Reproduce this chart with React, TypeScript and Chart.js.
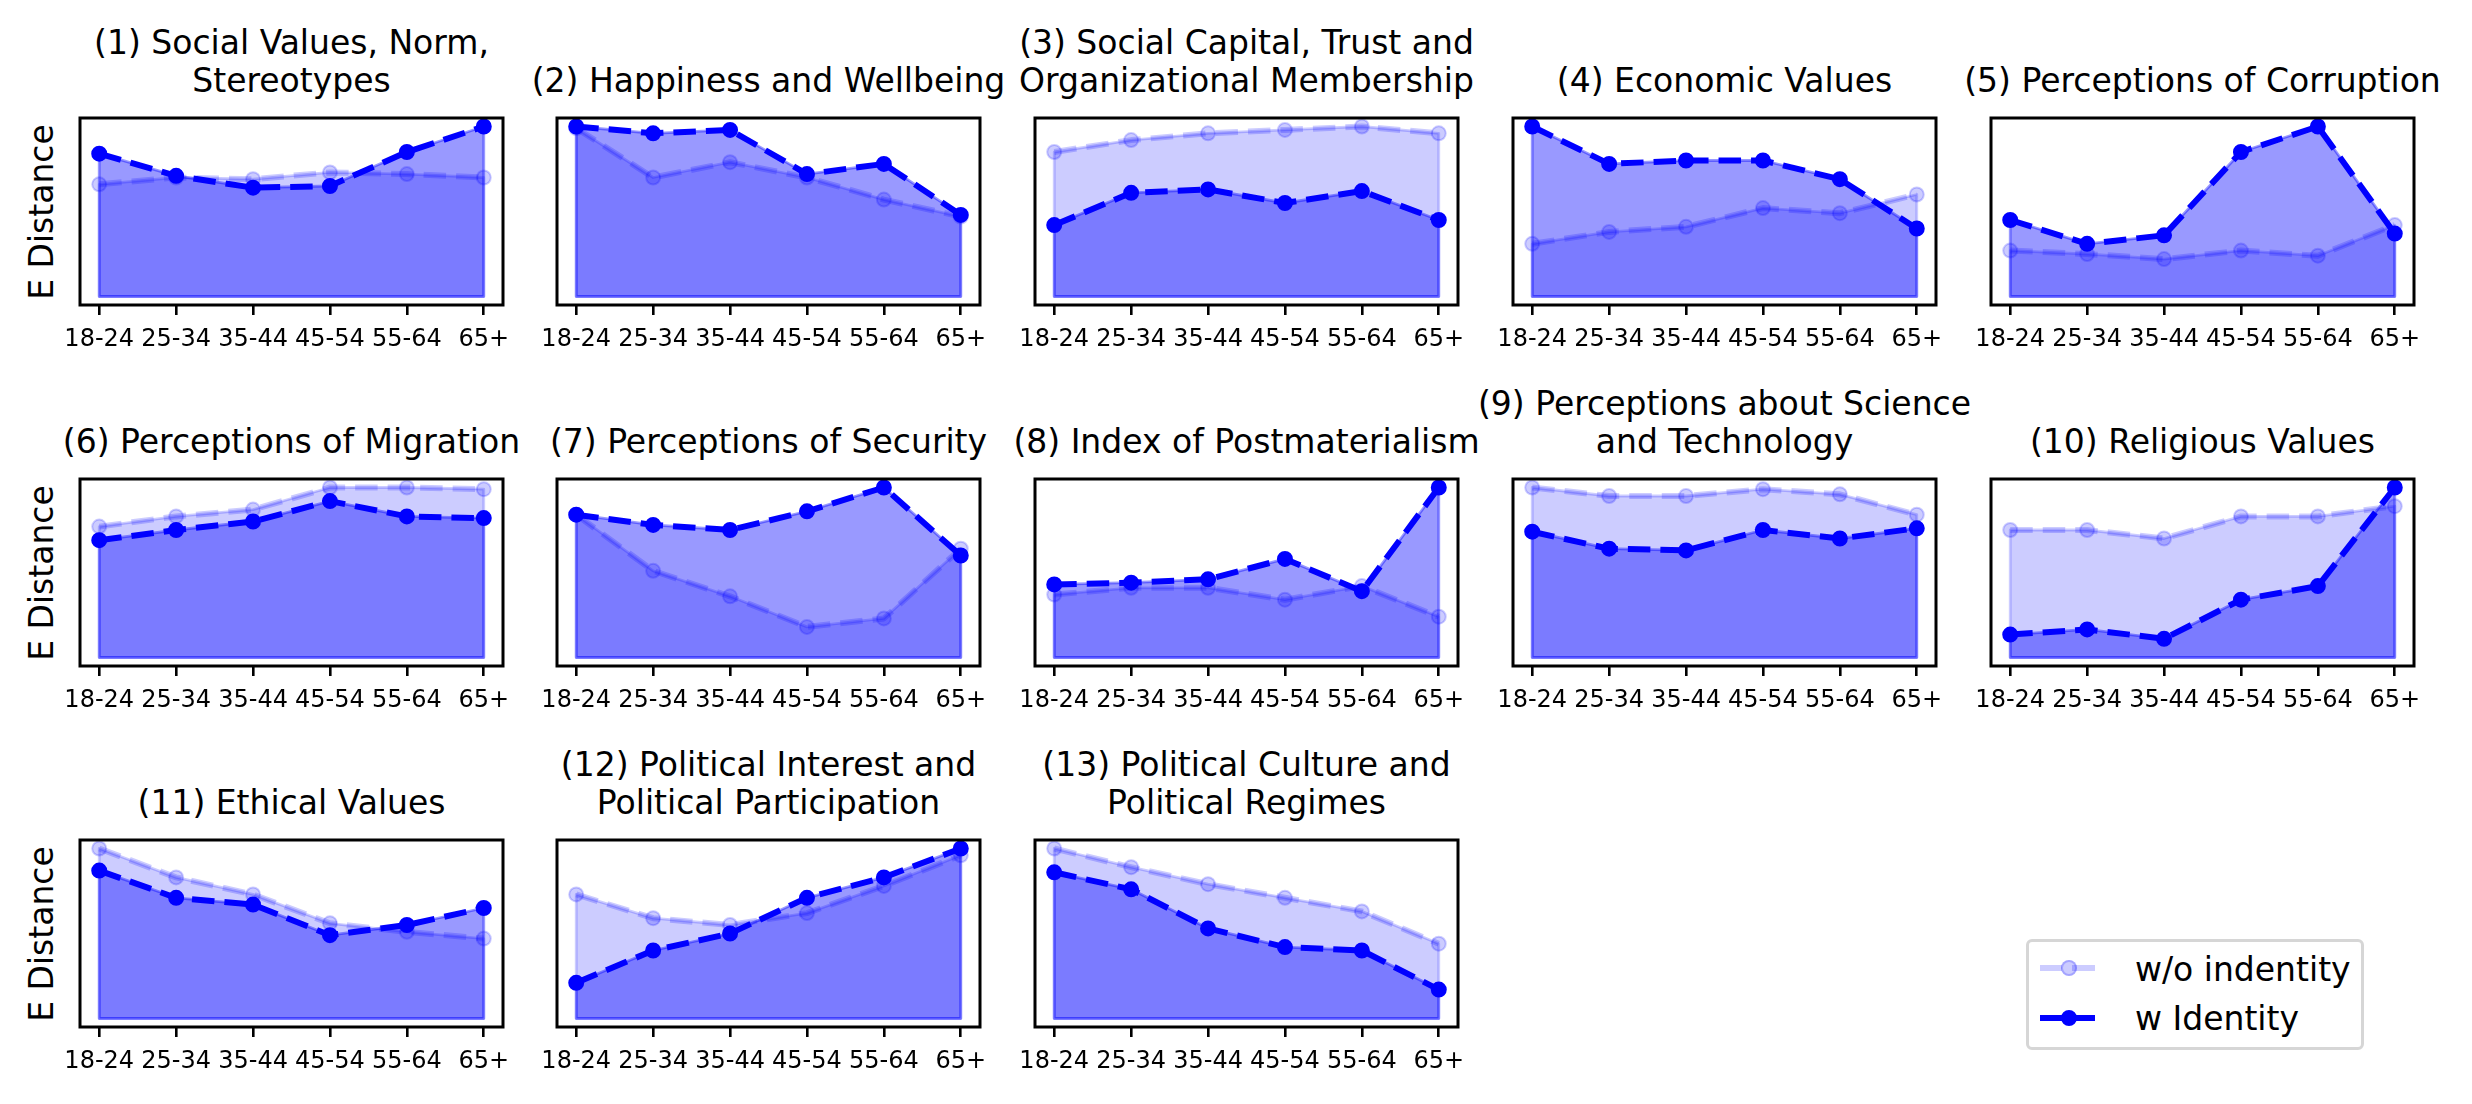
import React, { useEffect, useRef } from 'react';
import { Chart, registerables } from 'chart.js';
import type { Plugin } from 'chart.js';

Chart.register(...registerables);

// x categories shared by every panel
const ageGroups = ['18-24', '25-34', '35-44', '45-54', '55-64', '65+'];

const panelTitles: string[][] = [
    ['(1) Social Values, Norm,', 'Stereotypes'],
    ['(2) Happiness and Wellbeing'],
    ['(3) Social Capital, Trust and', 'Organizational Membership'],
    ['(4) Economic Values'],
    ['(5) Perceptions of Corruption'],
    ['(6) Perceptions of Migration'],
    ['(7) Perceptions of Security'],
    ['(8) Index of Postmaterialism'],
    ['(9) Perceptions about Science', 'and Technology'],
    ['(10) Religious Values'],
    ['(11) Ethical Values'],
    ['(12) Political Interest and', 'Political Participation'],
    ['(13) Political Culture and', 'Political Regimes'],
];

// E distance per age group, one row per panel (relative units)
const withoutIdentity: number[][] = [
    [0.66, 0.70, 0.69, 0.73, 0.72, 0.70],
    [0.99, 0.70, 0.79, 0.70, 0.57, 0.47],
    [0.85, 0.92, 0.96, 0.98, 1.00, 0.96],
    [0.31, 0.38, 0.41, 0.52, 0.49, 0.60],
    [0.27, 0.25, 0.22, 0.27, 0.24, 0.42],
    [0.77, 0.83, 0.87, 1.00, 1.00, 0.99],
    [0.84, 0.51, 0.36, 0.18, 0.23, 0.64],
    [0.37, 0.41, 0.41, 0.34, 0.42, 0.24],
    [1.00, 0.95, 0.95, 0.99, 0.96, 0.84],
    [0.75, 0.75, 0.70, 0.83, 0.83, 0.89],
    [1.00, 0.83, 0.73, 0.56, 0.51, 0.47],
    [0.73, 0.59, 0.55, 0.62, 0.78, 0.96],
    [1.00, 0.89, 0.79, 0.71, 0.63, 0.44],
];

const withIdentity: number[][] = [
    [0.84, 0.71, 0.64, 0.65, 0.85, 1.00],
    [1.00, 0.96, 0.98, 0.72, 0.78, 0.48],
    [0.42, 0.61, 0.63, 0.55, 0.62, 0.45],
    [1.00, 0.78, 0.80, 0.80, 0.69, 0.40],
    [0.45, 0.31, 0.36, 0.85, 1.00, 0.37],
    [0.69, 0.75, 0.80, 0.92, 0.83, 0.82],
    [0.84, 0.78, 0.75, 0.86, 1.00, 0.60],
    [0.43, 0.44, 0.46, 0.58, 0.39, 1.00],
    [0.74, 0.64, 0.63, 0.75, 0.70, 0.76],
    [0.135, 0.165, 0.11, 0.34, 0.42, 1.00],
    [0.87, 0.71, 0.67, 0.49, 0.55, 0.65],
    [0.21, 0.40, 0.50, 0.71, 0.83, 1.00],
    [0.86, 0.76, 0.53, 0.42, 0.40, 0.17],
];

const legendLabels = ['w/o indentity', 'w Identity'];

const FONT = '"DejaVu Sans", sans-serif';
const COL_LEFT = [80, 557, 1035, 1513, 1991];
const ROW_TOP = [118, 479, 840];
const AX_W = 423;
const AX_H = 187;
const PAD_X = 45;
const PAD_TOP = 12;
const TICK_AREA = 70;

const LINE_W = 6;
const DASH = [22.5, 10];
const LIGHT = 'rgba(0,0,255,0.2)';
const DARK = 'rgb(0,0,255)';

// outline of each fill_between polygon (baseline, sides and top)
const fillEdges: Plugin<'line'> = {
    id: 'fillEdges',
    afterDatasetsDraw(chart) {
        const { ctx } = chart;
        const y0 = chart.scales.y.getPixelForValue(0);
        const alphas = [0.4, 0.2];
        ctx.save();
        ctx.lineWidth = 2.8;
        ctx.lineJoin = 'round';
        for (let d = chart.data.datasets.length - 1; d >= 0; d--) {
            const pts = chart.getDatasetMeta(d).data;
            if (!pts.length) continue;
            ctx.strokeStyle = `rgba(0,0,255,${alphas[d]})`;
            ctx.beginPath();
            ctx.moveTo(pts[0].x, y0);
            pts.forEach(p => ctx.lineTo(p.x, p.y));
            ctx.lineTo(pts[pts.length - 1].x, y0);
            ctx.closePath();
            ctx.stroke();
        }
        ctx.restore();
    },
};

const frame: Plugin<'line'> = {
    id: 'frame',
    afterDatasetsDraw(chart) {
        const { ctx, chartArea: a } = chart;
        ctx.save();
        ctx.strokeStyle = '#000';
        ctx.lineWidth = 3;
        ctx.strokeRect(a.left, a.top, a.right - a.left, a.bottom - a.top);
        ctx.restore();
    },
};

function Panel({ index }: { index: number }) {
    const canvasRef = useRef<HTMLCanvasElement>(null);
    const row = Math.floor(index / 5);
    const col = index % 5;

    useEffect(() => {
        if (!canvasRef.current) return;
        const w = withIdentity[index];
        const wo = withoutIdentity[index];
        const peak = Math.max(...w, ...wo);

        const common = {
            fill: 'origin' as const,
            borderWidth: LINE_W,
            borderDash: DASH,
            borderJoinStyle: 'round' as const,
            pointRadius: 7,
            pointBorderWidth: 2,
            tension: 0,
            clip: false as const,
        };

        const chart = new Chart(canvasRef.current, {
            type: 'line',
            data: {
                datasets: [
                    {
                        ...common,
                        label: legendLabels[1],
                        data: w.map((v, i) => ({ x: i, y: v })),
                        borderColor: DARK,
                        backgroundColor: 'rgba(0,0,255,0.4)',
                        pointBackgroundColor: DARK,
                        pointBorderColor: DARK,
                    },
                    {
                        ...common,
                        label: legendLabels[0],
                        data: wo.map((v, i) => ({ x: i, y: v })),
                        borderColor: LIGHT,
                        backgroundColor: LIGHT,
                        pointBackgroundColor: LIGHT,
                        pointBorderColor: LIGHT,
                    },
                ],
            },
            options: {
                responsive: false,
                animation: false,
                events: [],
                layout: { padding: { left: PAD_X, right: PAD_X, top: PAD_TOP, bottom: 0 } },
                plugins: {
                    legend: { display: false },
                    tooltip: { enabled: false },
                },
                scales: {
                    x: {
                        type: 'linear',
                        min: -0.25,
                        max: ageGroups.length - 0.75,
                        afterBuildTicks: (s) => {
                            s.ticks = ageGroups.map((_, i) => ({ value: i }));
                        },
                        afterFit: (s) => {
                            s.height = TICK_AREA;
                        },
                        grid: {
                            drawOnChartArea: false,
                            drawTicks: true,
                            tickLength: 10,
                            color: '#000',
                            lineWidth: 2.6,
                        },
                        border: { display: false },
                        ticks: {
                            autoSkip: false,
                            maxRotation: 0,
                            minRotation: 0,
                            padding: 10,
                            color: '#000',
                            font: { family: FONT, size: 24 },
                            callback: (v) => ageGroups[Number(v)] ?? '',
                        },
                    },
                    y: {
                        type: 'linear',
                        display: false,
                        min: -0.05 * peak,
                        max: 1.05 * peak,
                    },
                },
            },
            plugins: [fillEdges, frame],
        });

        return () => chart.destroy();
    }, [index]);

    return (
        <div style={{ position: 'absolute', left: COL_LEFT[col], top: ROW_TOP[row], width: AX_W, height: AX_H }}>
            <div
                style={{
                    position: 'absolute',
                    left: -150,
                    width: AX_W + 300,
                    bottom: 'calc(100% + 18px)',
                    textAlign: 'center',
                    whiteSpace: 'nowrap',
                    fontSize: 33,
                    lineHeight: '38px',
                    color: '#000',
                }}
            >
                {panelTitles[index].map((t, i) => <div key={i}>{t}</div>)}
            </div>
            {col === 0 && (
                <div
                    style={{
                        position: 'absolute',
                        left: -38,
                        top: AX_H / 2,
                        transform: 'translate(-50%, -50%) rotate(-90deg)',
                        whiteSpace: 'nowrap',
                        fontSize: 33,
                        lineHeight: '38px',
                        color: '#000',
                    }}
                >
                    E Distance
                </div>
            )}
            <canvas
                ref={canvasRef}
                width={AX_W + 2 * PAD_X}
                height={PAD_TOP + AX_H + TICK_AREA}
                style={{ position: 'absolute', left: -PAD_X, top: -PAD_TOP }}
            />
        </div>
    );
}

function LegendRow({ y, label, color, textTop }: { y: number; label: string; color: string; textTop: number }) {
    return (
        <>
            <div
                style={{
                    position: 'absolute',
                    left: 11,
                    top: y - LINE_W / 2,
                    width: 56,
                    height: LINE_W,
                    background: `repeating-linear-gradient(to right, ${color} 0 ${DASH[0]}px, transparent ${DASH[0]}px ${DASH[0] + DASH[1]}px)`,
                }}
            />
            <div
                style={{
                    position: 'absolute',
                    left: 40 - 8,
                    top: y - 8,
                    width: 16,
                    height: 16,
                    boxSizing: 'border-box',
                    borderRadius: '50%',
                    background: color,
                    border: `2px solid ${color}`,
                }}
            />
            <div style={{ position: 'absolute', left: 106, top: textTop, fontSize: 33, lineHeight: '38px', whiteSpace: 'nowrap' }}>
                {label}
            </div>
        </>
    );
}

export default function App() {
    return (
        <div
            style={{
                position: 'absolute',
                left: 0,
                top: 0,
                width: 2472,
                height: 1104,
                background: '#fff',
                fontFamily: FONT,
                color: '#000',
                overflow: 'hidden',
            }}
        >
            {panelTitles.map((_, i) => <Panel key={i} index={i} />)}
            <div
                style={{
                    position: 'absolute',
                    left: 2026,
                    top: 939,
                    width: 338,
                    height: 111,
                    boxSizing: 'border-box',
                    border: '3px solid #d6d6d6',
                    borderRadius: 6,
                    background: '#fff',
                }}
            >
                <LegendRow y={26} label={legendLabels[0]} color={LIGHT} textTop={8.6} />
                <LegendRow y={76} label={legendLabels[1]} color={DARK} textTop={57.6} />
            </div>
        </div>
    );
}
